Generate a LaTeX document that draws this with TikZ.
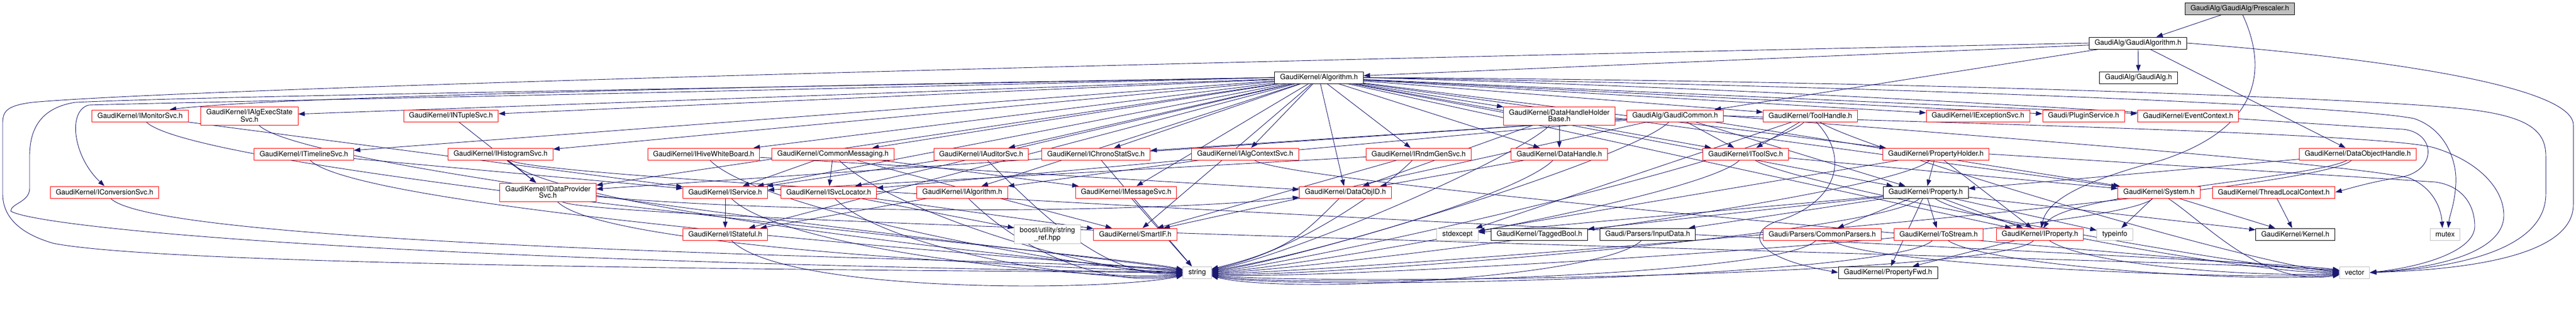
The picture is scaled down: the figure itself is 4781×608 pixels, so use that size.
\documentclass[tikz,border=0pt]{standalone}
\usepackage{fontspec}
\newfontfamily\graphfont{TeX Gyre Heros}
\usetikzlibrary{arrows.meta,backgrounds,calc}

\definecolor{edgeblue}{HTML}{191970}
\definecolor{hdrred}{HTML}{FF0000}
\definecolor{sysgrey}{HTML}{BFBFBF}

\tikzset{
  hdr/.style={draw=hdrred, fill=white, line width=1pt, inner xsep=10pt,
    inner ysep=0pt, minimum height=22pt, align=center,
    font=\graphfont\fontsize{13.3}{12}\selectfont},
  hdrtwo/.style={hdr, minimum height=34pt},
  hdrok/.style={hdr, draw=black},
  syshdr/.style={hdr, draw=sysgrey},
  roothdr/.style={hdr, draw=black, fill=sysgrey},
  dep/.style={draw=edgeblue, line width=0.9pt,
    -{Triangle[length=12pt,width=8.5pt]}},
}

\begin{document}
\begin{tikzpicture}[x=1pt, y=-1pt]
  \useasboundingbox (0,0) rectangle (4781,608);

  % top rows
  \node[roothdr] (prescaler) at (4157,16) {GaudiAlg/GaudiAlg/Prescaler.h};
  \node[hdrok] (gaudi_algorithm) at (3968,80) {GaudiAlg/GaudiAlgorithm.h};
  \node[hdrok] (algorithm) at (2448,144) {GaudiKernel/Algorithm.h};
  \node[hdrok] (gaudi_alg) at (3969,144) {GaudiAlg/GaudiAlg.h};

  % row 3
  \node[hdr] (i_monitor) at (260,215) {GaudiKernel/IMonitorSvc.h};
  \node[hdrtwo] (i_alg_exec) at (463,215) {GaudiKernel/IAlgExecState\\Svc.h};
  \node[hdr] (i_ntuple) at (837,215) {GaudiKernel/INTupleSvc.h};
  \node[hdrtwo] (dh_holder) at (2894,215) {GaudiKernel/DataHandleHolder\\Base.h};
  \node[hdr] (gaudi_common) at (3109,215) {GaudiAlg/GaudiCommon.h};
  \node[hdr] (tool_handle) at (3360,215) {GaudiKernel/ToolHandle.h};
  \node[hdr] (i_exception) at (3671,215) {GaudiKernel/IExceptionSvc.h};
  \node[hdr] (plugin_svc) at (3867,215) {Gaudi/PluginService.h};
  \node[hdr] (event_ctx) at (4061,215) {GaudiKernel/EventContext.h};

  % row 4
  \node[hdr] (i_timeline) at (564,286) {GaudiKernel/ITimelineSvc.h};
  \node[hdr] (i_histogram) at (929,286) {GaudiKernel/IHistogramSvc.h};
  \node[hdr] (i_hive_wb) at (1306,286) {GaudiKernel/IHiveWhiteBoard.h};
  \node[hdr] (common_msg) at (1546,286) {GaudiKernel/CommonMessaging.h};
  \node[hdr] (i_auditor) at (1821,286) {GaudiKernel/IAuditorSvc.h};
  \node[hdr] (i_chrono) at (2034,286) {GaudiKernel/IChronoStatSvc.h};
  \node[hdr] (i_alg_ctx) at (2311,286) {GaudiKernel/IAlgContextSvc.h};
  \node[hdr] (i_rndm_gen) at (2633,286) {GaudiKernel/IRndmGenSvc.h};
  \node[hdr] (data_handle) at (2894,286) {GaudiKernel/DataHandle.h};
  \node[hdr] (i_tool_svc) at (3240,286) {GaudiKernel/IToolSvc.h};
  \node[hdr] (prop_holder) at (3593,286) {GaudiKernel/PropertyHolder.h};
  \node[hdr] (do_handle) at (4376,286) {GaudiKernel/DataObjectHandle.h};

  % row 5
  \node[hdr] (i_conversion) at (194,357) {GaudiKernel/IConversionSvc.h};
  \node[hdrtwo] (i_data_prov) at (1017,357) {GaudiKernel/IDataProvider\\Svc.h};
  \node[hdr] (i_service) at (1346,357) {GaudiKernel/IService.h};
  \node[hdr] (i_svc_loc) at (1538,357) {GaudiKernel/ISvcLocator.h};
  \node[hdr] (i_algorithm) at (1786,357) {GaudiKernel/IAlgorithm.h};
  \node[hdr] (i_message) at (2090,357) {GaudiKernel/IMessageSvc.h};
  \node[hdr] (data_obj_id) at (2497,357) {GaudiKernel/DataObjID.h};
  \node[hdrok] (property) at (3574,357) {GaudiKernel/Property.h};
  \node[hdr] (system_h) at (4007,357) {GaudiKernel/System.h};
  \node[hdr] (thread_ctx) at (4220,357) {GaudiKernel/ThreadLocalContext.h};

  % row 6
  \node[hdr] (i_stateful) at (1346,435) {GaudiKernel/IStateful.h};
  \node[syshdr, minimum height=35pt] (boost_sref) at (1944,435) {boost/utility/string\\\_ref.hpp};
  \node[hdr] (smart_if) at (2107,435) {GaudiKernel/SmartIF.h};
  \node[syshdr] (std_except) at (2705,435) {stdexcept};
  \node[hdrok] (tagged_bool) at (2857,435) {GaudiKernel/TaggedBool.h};
  \node[hdrok] (input_data) at (3058,435) {Gaudi/Parsers/InputData.h};
  \node[hdr] (common_pars) at (3382,435) {Gaudi/Parsers/CommonParsers.h};
  \node[hdr] (to_stream) at (3598,435) {GaudiKernel/ToStream.h};
  \node[hdr] (i_property) at (3786,435) {GaudiKernel/IProperty.h};
  \node[syshdr] (type_info) at (3925,435) {typeinfo};
  \node[hdrok] (kernel_h) at (4260,435) {GaudiKernel/Kernel.h};
  \node[syshdr] (mutex_h) at (4538,435) {mutex};

  % row 7
  \node[syshdr] (string_h) at (2222,506) {string};
  \node[hdrok] (prop_fwd) at (3504,506) {GaudiKernel/PropertyFwd.h};
  \node[syshdr] (vector_h) at (4370,506) {vector};

  \begin{pgfonlayer}{background}
    % Prescaler.h and GaudiAlgorithm.h
    \draw[dep] (prescaler) -- (gaudi_algorithm);
    \draw[dep] (prescaler) .. controls (4205,120) and (4205,235) .. (4010,298)
      .. controls (3870,335) and (3800,370) .. (i_property);
    \foreach \t in {gaudi_alg,gaudi_common,algorithm,do_handle}
      \draw[dep] (gaudi_algorithm) -- (\t);
    \draw[dep] (gaudi_algorithm.west) .. controls (2500,108) and (400,160) .. (60,190)
      .. controls (15,196) and (5,205) .. (5,228) -- (5,360)
      .. controls (5,405) and (40,435) .. (100,452)
      .. controls (300,490) and (1300,500) .. (string_h.west);
    \draw[dep] (gaudi_algorithm.east) .. controls (4420,108) and (4776,160) .. (4776,232)
      -- (4776,380) .. controls (4776,470) and (4600,500) .. (vector_h.east);

    % Algorithm.h
    \foreach \t in {i_alg_exec,i_ntuple,i_timeline,i_histogram,i_data_prov,
        i_hive_wb,common_msg,i_auditor,i_chrono,i_alg_ctx,i_rndm_gen,dh_holder,
        data_handle,tool_handle,i_exception,plugin_svc,event_ctx,i_tool_svc,
        prop_holder,i_service,i_svc_loc,i_algorithm,i_message,data_obj_id,
        property,system_h,i_stateful,i_property,smart_if}
      \draw[dep] (algorithm) -- (\t);
    \draw[dep] (algorithm.west) .. controls (1400,160) and (500,180) .. ($(i_monitor.north)+(55,0)$);
    \draw[dep] (algorithm.west) .. controls (1300,172) and (420,188) .. (165,195)
      .. controls (125,205) and (135,290) .. (i_conversion.north);
    \draw[dep] (algorithm.west) .. controls (1300,165) and (400,178) .. (140,190)
      .. controls (75,200) and (55,240) .. (55,290) -- (55,350)
      .. controls (55,375) and (20,378) .. (20,392)
      .. controls (60,418) and (600,482) .. (string_h.west);
    \draw[dep] (algorithm.east) .. controls (3600,150) and (4400,185) .. (4550,200)
      .. controls (4690,212) and (4725,240) .. (4725,290) -- (4725,360)
      .. controls (4725,450) and (4600,495) .. (vector_h.east);
    \draw[dep] (algorithm.east) .. controls (3500,170) and (4300,232) .. (4460,240)
      .. controls (4522,246) and (4525,320) .. (4450,330)
      .. controls (4400,338) and (4360,350) .. (thread_ctx.east);
    \draw[dep] (algorithm.east) .. controls (3500,160) and (4350,195) .. (4480,220)
      .. controls (4540,240) and (4560,300) .. (4558,340)
      .. controls (4556,380) and (4546,400) .. ($(mutex_h.north)+(6,0)$);

    % GaudiCommon.h
    \foreach \t in {i_chrono,i_svc_loc,i_tool_svc,i_data_prov,system_h,smart_if,property}
      \draw[dep] (gaudi_common) -- (\t);
    \draw[dep] (gaudi_common.east) .. controls (3700,230) and (4450,250) .. (4520,275)
      .. controls (4600,300) and (4647,350) .. (4647,400)
      .. controls (4647,460) and (4550,495) .. (vector_h.east);
    \draw[dep] (gaudi_common.east) .. controls (3800,262) and (4350,305) .. (4470,330)
      .. controls (4510,345) and (4530,380) .. ($(mutex_h.north)+(-5,0)$);

    % interfaces
    \draw[dep] (i_monitor) -- (i_service);
    \draw[dep] (i_ntuple) -- (i_data_prov);
    \draw[dep] (i_timeline) -- (i_service);
    \draw[dep] (i_histogram) -- (i_data_prov);
    \draw[dep] (i_data_prov) .. controls (1500,400) and (2150,395) .. (data_obj_id);
    \draw[dep] (i_hive_wb) -- (data_obj_id);
    \foreach \t in {i_service,i_svc_loc,i_message,smart_if}
      \draw[dep] (common_msg) -- (\t);
    \draw[dep] (i_auditor) -- (i_service);
    \draw[dep] (i_alg_ctx) -- (i_algorithm);
    \draw[dep] (i_rndm_gen) -- (i_service);
    \draw[dep] (i_rndm_gen) -- (smart_if);
    \draw[dep] (dh_holder) -- (data_handle);
    \draw[dep] (dh_holder) -- (data_obj_id);
    \draw[dep] (data_handle) -- (data_obj_id);
    \draw[dep] (tool_handle) -- (i_tool_svc);
    \draw[dep] (tool_handle) -- (std_except);
    \draw[dep] (tool_handle) .. controls (3440,300) and (3400,380) .. (3300,410)
      .. controls (3240,430) and (3250,478) .. (prop_fwd.west);
    \draw[dep] (i_tool_svc) -- (system_h);
    \foreach \t in {property,i_property,std_except}
      \draw[dep] (prop_holder) -- (\t);
    \draw[dep] (prop_holder.east) .. controls (4000,305) and (4400,330) .. (4520,338)
      .. controls (4570,345) and (4593,380) .. (4593,420)
      .. controls (4593,465) and (4500,495) .. (vector_h.east);
    \draw[dep] (do_handle) -- (property);
    \draw[dep] (do_handle) .. controls (4300,330) and (3830,360) .. (i_property);
    \draw[dep] (i_service) -- (i_stateful);
    \draw[dep] (i_svc_loc) -- (smart_if);
    \draw[dep] (i_svc_loc) -- (boost_sref);
    \draw[dep] (i_algorithm) -- (i_stateful);
    \foreach \t in {i_property,common_pars,to_stream,tagged_bool,input_data,
        std_except,prop_fwd,type_info,kernel_h}
      \draw[dep] (property) -- (\t);
    \draw[dep] (system_h) -- (type_info);
    \draw[dep] (system_h) -- (kernel_h);
    \draw[dep] (thread_ctx) -- (kernel_h);
    \draw[dep] (i_property) -- (prop_fwd);

    % into string
    \foreach \s [count=\i, evaluate=\i as \d using -42+6*\i] in {i_monitor,
        i_alg_exec,i_conversion,i_timeline,i_histogram,i_data_prov,i_hive_wb,
        common_msg,i_auditor,i_service,i_svc_loc,i_algorithm,i_stateful}
      \draw[dep] (\s) .. controls +(110,110) and +(-170,\d) .. (string_h);
    \draw[dep] (i_chrono) -- (string_h);
    \draw[dep] (i_message) -- (string_h);
    \foreach \s [count=\i, evaluate=\i as \d using -48+6*\i] in {data_obj_id,
        i_rndm_gen,dh_holder,data_handle,gaudi_common,tool_handle,i_tool_svc,
        prop_holder,do_handle,property,system_h,i_property,common_pars,
        to_stream,input_data}
      \draw[dep] (\s) .. controls +(-80,80) and +(170,\d) .. (string_h);

    % into vector
    \foreach \s [count=\i, evaluate=\i as \d using -33+6*\i] in {i_histogram,
        i_data_prov,i_alg_ctx,tool_handle,i_tool_svc,property,i_property,
        common_pars,to_stream,system_h}
      \draw[dep] (\s) .. controls +(90,60) and +(-170,\d) .. (vector_h);
  \end{pgfonlayer}
\end{tikzpicture}
\end{document}
